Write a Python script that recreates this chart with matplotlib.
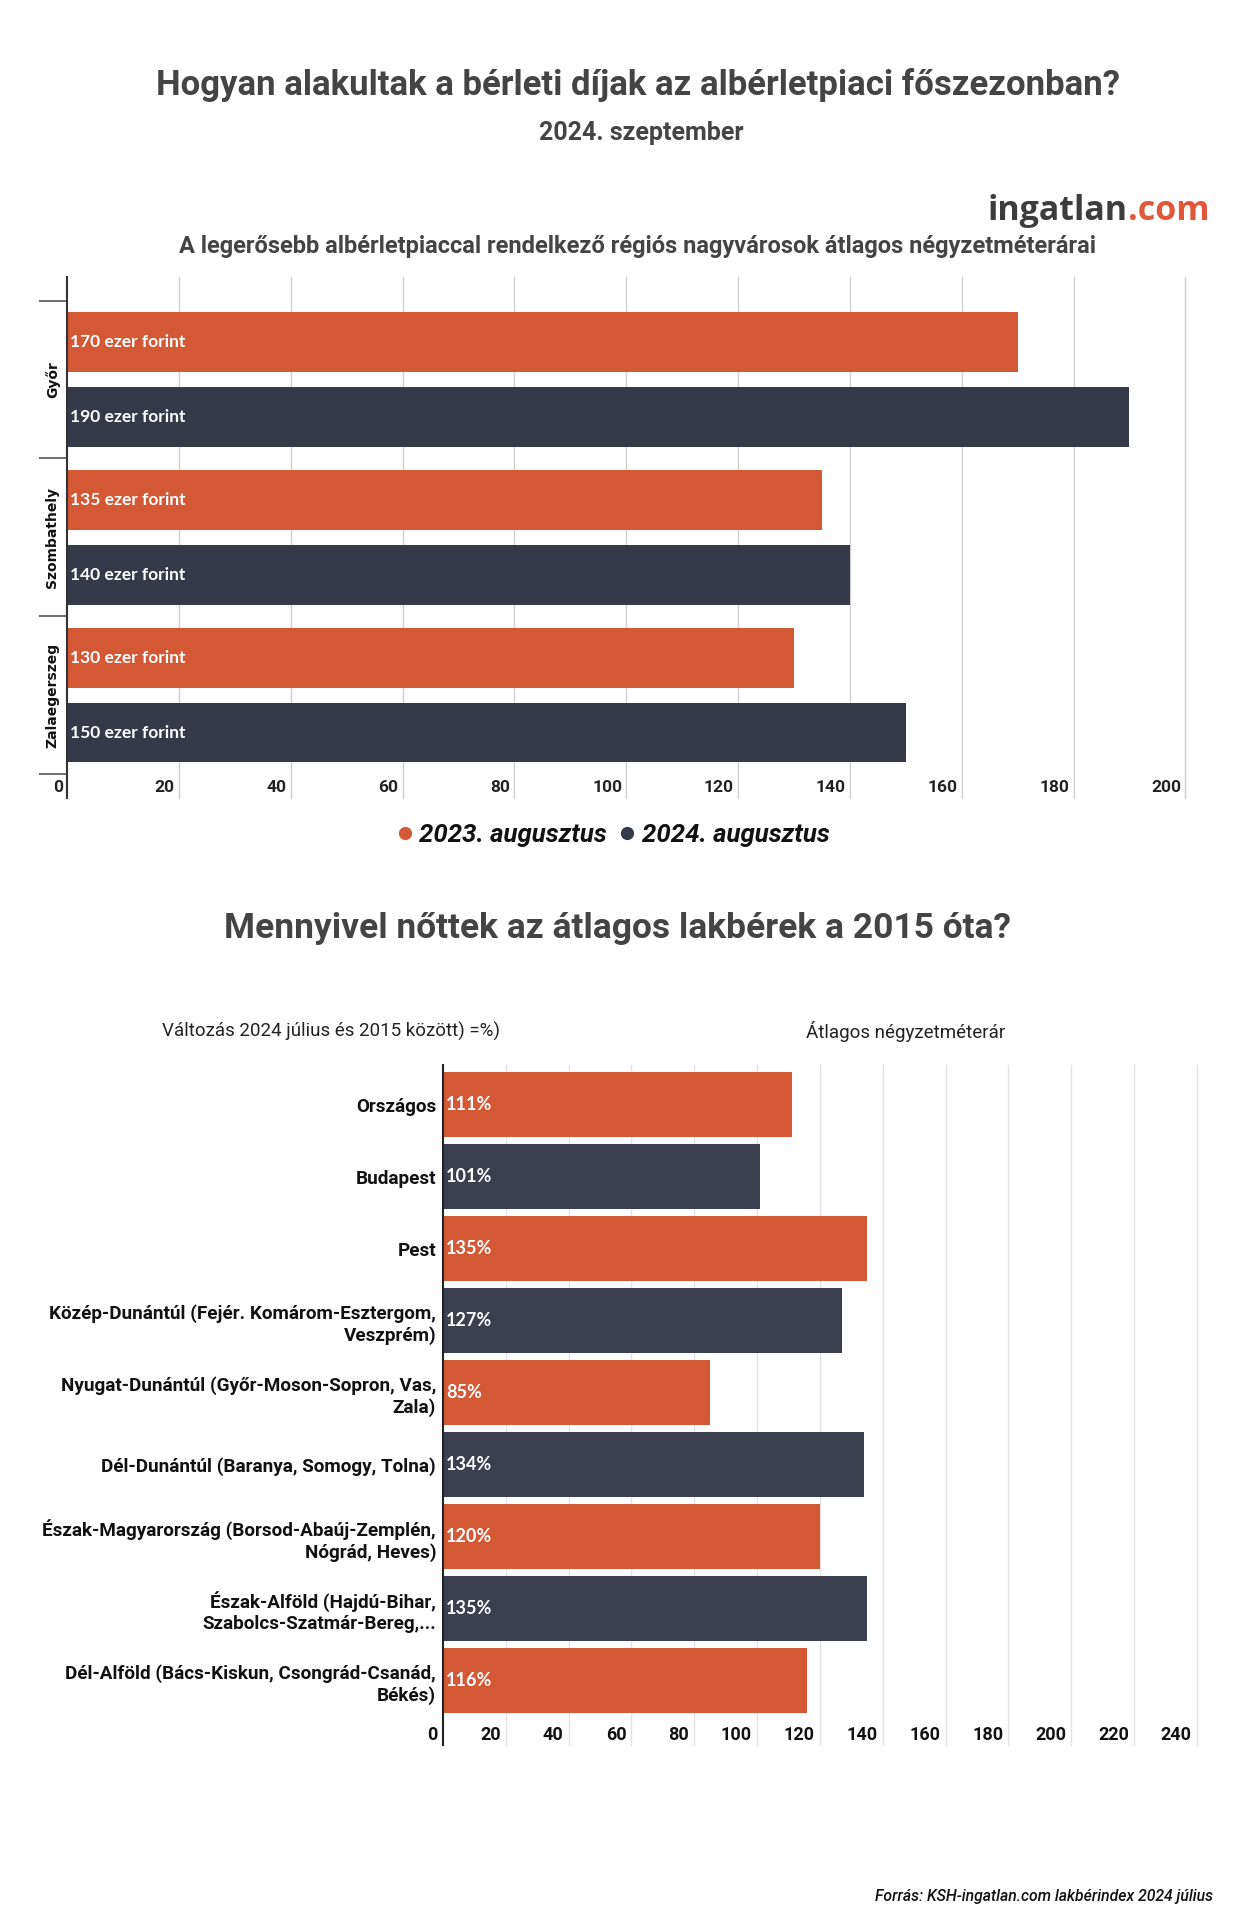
import matplotlib
matplotlib.use('Agg')
import matplotlib.pyplot as plt
from matplotlib.lines import Line2D
from matplotlib.transforms import ScaledTranslation
import numpy as np

# ---------------- data ----------------
cities = ['Győr', 'Szombathely', 'Zalaegerszeg']
rent_2023 = [170, 135, 130]
rent_2024 = [190, 140, 150]
series_names = ['2023. augusztus', '2024. augusztus']
top_ticks = [0, 20, 40, 60, 80, 100, 120, 140, 160, 180, 200]

regions = [
    'Országos',
    'Budapest',
    'Pest',
    'Közép-Dunántúl (Fejér. Komárom-Esztergom,\nVeszprém)',
    'Nyugat-Dunántúl (Győr-Moson-Sopron, Vas,\nZala)',
    'Dél-Dunántúl (Baranya, Somogy, Tolna)',
    'Észak-Magyarország (Borsod-Abaúj-Zemplén,\nNógrád, Heves)',
    'Észak-Alföld (Hajdú-Bihar,\nSzabolcs-Szatmár-Bereg,...',
    'Dél-Alföld (Bács-Kiskun, Csongrád-Csanád,\nBékés)',
]
growth = [111, 101, 135, 127, 85, 134, 120, 135, 116]
bottom_ticks = [0, 20, 40, 60, 80, 100, 120, 140, 160, 180, 200, 220, 240]

# ---------------- style ----------------
ORANGE = '#d35836'
DARK = '#363a48'
DARK2 = '#3b3f4e'
TITLE_C = '#444444'
GRID_C = '#cfcfcf'
W, H = 1234, 1920

fig = plt.figure(figsize=(W / 100, H / 100), dpi=100)
fig.patch.set_facecolor('white')

# ---------------- titles ----------------
fig.text(0.517, 1 - 85 / H, 'Hogyan alakultak a bérleti díjak az albérletpiaci főszezonban?',
         ha='center', va='center', fontsize=25, fontweight='bold', color=TITLE_C, family='Roboto')
fig.text(0.52, 1 - 133 / H, '2024. szeptember', ha='center', va='center', fontsize=18,
         fontweight='bold', color=TITLE_C, family='Roboto')

# logo
logo1 = fig.text(1209 / W, 1 - 220 / H, '.com', ha='right', va='baseline', fontsize=24.5,
                 fontweight='bold', color='#e0573a', family='Open Sans')
fig.canvas.draw()
bb = logo1.get_window_extent()
fig.text(bb.x0 / W, 1 - 220 / H, 'ingatlan', ha='right', va='baseline', fontsize=24.5,
         fontweight='bold', color='#3d3d3d', family='Open Sans')

fig.text(0.517, 1 - 247 / H,
         'A legerősebb albérletpiaccal rendelkező régiós nagyvárosok átlagos négyzetméterárai',
         ha='center', va='center', fontsize=17, fontweight='bold', color=TITLE_C, family='Roboto')

# ---------------- top chart ----------------
ax1 = fig.add_axes([67 / W, 1 - 774 / H, 1124 / W, (774 - 276.7) / H])
y = np.arange(len(cities))
off = 0.237
bh = 0.38
ax1.barh(y - off, rent_2023, height=bh, color=ORANGE, zorder=2)
ax1.barh(y + off, rent_2024, height=bh, color=DARK, zorder=2)
for yy, v in zip(y - off, rent_2023):
    ax1.annotate(f'{v} ezer forint', xy=(0, yy), xytext=(2, 0), textcoords='offset points',
                 ha='left', va='center', color='white', fontsize=12.5, fontweight='bold',
                 family='Lato', zorder=3)
for yy, v in zip(y + off, rent_2024):
    ax1.annotate(f'{v} ezer forint', xy=(0, yy), xytext=(2, 0), textcoords='offset points',
                 ha='left', va='center', color='white', fontsize=12.5, fontweight='bold',
                 family='Lato', zorder=3)

ax1.set_xlim(0, 201)
ax1.set_ylim(2.5, -0.652)
for s in ax1.spines.values():
    s.set_visible(False)
ax1.axvline(0, ymin=-0.048, ymax=1, color='#333333', lw=1.5, zorder=4, clip_on=False)
for v in top_ticks[1:]:
    ax1.axvline(v, ymin=-0.048, ymax=1, color=GRID_C, lw=1, zorder=0, clip_on=False)

ax1.set_yticks([-0.5, 0.5, 1.5, 2.5])
ax1.set_yticklabels([])
ax1.tick_params(axis='y', length=20, width=1.2, color='#555555')
for yc, c in zip(y, cities):
    ax1.annotate(c, xy=(0, yc), xycoords=('axes fraction', 'data'), xytext=(-10.5, 0),
                 textcoords='offset points', rotation=90, ha='center', va='center',
                 fontsize=10, fontweight='bold', family='DejaVu Sans', color='#111111')

ax1.set_xticks(top_ticks)
ax1.set_xticklabels([str(t) for t in top_ticks], ha='right', fontsize=12.5,
                    fontweight='bold', family='Roboto', color='#222222')
ax1.tick_params(axis='x', length=0, pad=4)
for lab in ax1.get_xticklabels():
    lab.set_transform(lab.get_transform() + ScaledTranslation(-4 / 100, 0, fig.dpi_scale_trans))

# legend
handles = [Line2D([], [], marker='o', ls='none', color=ORANGE, markersize=8.5),
           Line2D([], [], marker='o', ls='none', color=DARK, markersize=8.5)]
fig.legend(handles, series_names, loc='center', bbox_to_anchor=(0.496, 1 - 835 / H),
           ncol=2, frameon=False, handletextpad=0.15, columnspacing=0.4, handlelength=0.8,
           prop={'family': 'Roboto', 'weight': 'bold', 'style': 'italic', 'size': 18.5},
           labelcolor='#111111')

# ---------------- bottom chart ----------------
fig.text(0.5, 1 - 928 / H, 'Mennyivel nőttek az átlagos lakbérek a 2015 óta?',
         ha='center', va='center', fontsize=25.5, fontweight='bold', color=TITLE_C, family='Roboto')
fig.text(331 / W, 1 - 1031 / H, 'Változás 2024 július és 2015 között) =%)', ha='center',
         va='center', fontsize=13.5, color='#222222', family='Roboto')
fig.text(906 / W, 1 - 1031 / H, 'Átlagos négyzetméterár', ha='center', va='center',
         fontsize=13.5, color='#222222', family='Roboto')

ax2 = fig.add_axes([443 / W, 1 - 1716 / H, 757 / W, (1716 - 1065) / H])
yb = np.arange(len(regions))
cols = [ORANGE if i % 2 == 0 else DARK2 for i in range(len(regions))]
ax2.barh(yb, growth, height=0.895, color=cols, zorder=2)
for yy, v in zip(yb, growth):
    ax2.annotate(f'{v}%', xy=(0, yy), xytext=(2, 0), textcoords='offset points',
                 ha='left', va='center', color='white', fontsize=13, fontweight='bold',
                 family='Lato', zorder=3)
ax2.set_xlim(0, 241)
ax2.set_ylim(8.49, -0.551)
for s in ax2.spines.values():
    s.set_visible(False)
ax2.axvline(0, ymin=-0.045, ymax=1, color='#222222', lw=1.5, zorder=4, clip_on=False)
for v in bottom_ticks[1:]:
    ax2.axvline(v, ymin=-0.045, ymax=1, color='#e2e2e2', lw=1, zorder=0, clip_on=False)

ax2.set_yticks(yb)
ax2.set_yticklabels(regions, fontsize=13.6, fontweight='bold', family='Roboto', color='#111111')
ax2.tick_params(axis='y', length=0, pad=5)
for lab in ax2.get_yticklabels():
    lab.set_multialignment('right')

ax2.set_xticks(bottom_ticks)
ax2.set_xticklabels([str(t) for t in bottom_ticks], ha='right', fontsize=13,
                    fontweight='bold', family='Roboto', color='#111111')
ax2.tick_params(axis='x', length=0, pad=7)
for lab in ax2.get_xticklabels():
    lab.set_transform(lab.get_transform() + ScaledTranslation(-5 / 100, 0, fig.dpi_scale_trans))

# footer
fig.text(1213 / W, 1 - 1897 / H, 'Forrás: KSH-ingatlan.com lakbérindex 2024 július',
         ha='right', va='center', fontsize=11.3, style='italic', fontweight='medium',
         family='Roboto', color='#111111')

fig.savefig('out.png', dpi=100, facecolor='white')
